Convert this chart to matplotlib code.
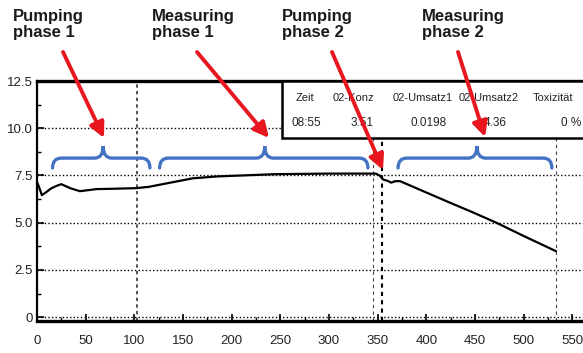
import numpy as np
import matplotlib
matplotlib.use("Agg")
from matplotlib import pyplot as plt
from matplotlib.path import Path
from matplotlib.patches import PathPatch, Rectangle

# O2 concentration curve
t = [0, 2, 5, 9, 14, 20, 25, 34, 44, 52, 61, 80, 102, 115, 129, 145, 160, 185, 210, 245,
     300, 348, 352, 356, 360, 364, 368, 373, 400, 423, 450, 472, 500, 533]
o2 = [7.15, 6.9, 6.46, 6.6, 6.8, 6.95, 7.04, 6.83, 6.67, 6.72, 6.78, 6.8, 6.83, 6.9, 7.04, 7.2, 7.35, 7.45, 7.5, 7.57,
      7.6, 7.6, 7.5, 7.28, 7.22, 7.12, 7.2, 7.2, 6.6, 6.09, 5.5, 5.0, 4.3, 3.5]

phase_lines = [103, 345, 354, 533]
yticks = [0, 2.5, 5.0, 7.5, 10.0, 12.5]
ytick_labels = ['0', '2.5', '5.0', '7.5', '10.0', '12.5']
xticks = list(range(0, 551, 50))

table_head = ['Zeit', '02-Konz', '02-Umsatz1', '02-Umsatz2', 'Toxizität']
table_vals = ['08:55', '3.51', '0.0198', '4.36', '0 %']

phase_labels = ['Pumping\nphase 1', 'Measuring\nphase 1', 'Pumping\nphase 2', 'Measuring\nphase 2']
# braces: (start, tip, end) in time units
braces = [(16, 68, 116), (126, 234, 340), (371, 452, 529)]

small = ['Liberation Sans', 'DejaVu Sans']

W, H = 583, 353
fig = plt.figure(figsize=(W / 100, H / 100), dpi=100)
ax = fig.add_axes([37 / W, 32 / H, 546 / W, 240 / H])

ax.plot(t, o2, color='black', lw=1.6, zorder=4)

ax.set_xlim(0, 561)
ax.set_ylim(-0.2, 12.5)

# dotted grid
for y in yticks[:-1]:
    ax.axhline(y, color='black', lw=1.0, ls=(0, (1, 1.6)), zorder=2)
ax.axvline(phase_lines[0], color='#333333', lw=1.2, ls=(0, (2, 2)), zorder=2)
ax.axvline(phase_lines[1], color='#444444', lw=0.8, ls=(0, (3, 3)), zorder=2)
ax.axvline(phase_lines[2], color='black', lw=1.5, ls=(0, (2, 2)), zorder=2)
ax.axvline(phase_lines[3], color='#444444', lw=0.8, ls=(0, (3, 3)), zorder=2)

ax.set_yticks(yticks)
ax.set_yticklabels(ytick_labels)
ax.set_yticks(np.arange(1.25, 12.5, 2.5), minor=True)
ax.set_xticks(xticks)
ax.set_xticklabels([str(v) for v in xticks])
ax.set_xticks(np.arange(25, 560, 50), minor=True)
ax.tick_params(direction='in', length=5, width=1.2, labelsize=9.5, pad=10)
ax.tick_params(axis='y', pad=3)
ax.tick_params(which='minor', direction='in', length=3, width=1)
for lab in ax.get_xticklabels() + ax.get_yticklabels():
    lab.set_family(small)
    lab.set_color('#222222')

ax.spines['right'].set_visible(False)
ax.spines['left'].set_linewidth(1.6)
ax.spines['bottom'].set_linewidth(2.4)
ax.spines['top'].set_linewidth(2.4)

# value table box in the upper right
ax.add_patch(Rectangle((252, 9.5), 330, 3.0, facecolor='white', edgecolor='black',
                       lw=1.8, zorder=5, clip_on=False))
head_x = [275, 325, 396, 464, 509]
head_al = ['center', 'center', 'center', 'center', 'left']
val_x = [277, 346, 402, 471, 538]
val_al = ['center', 'right', 'center', 'center', 'left']
for hx, h, al in zip(head_x, table_head, head_al):
    ax.text(hx, 11.6, h, ha=al, va='center', fontsize=8, family=small, zorder=6,
            color='#222222', clip_on=False)
for vx, v, al in zip(val_x, table_vals, val_al):
    ax.text(vx, 10.3, v, ha=al, va='center', fontsize=8.5, family=small, zorder=6,
            color='#222222', clip_on=False)

# blue curly braces
for x0, xm, x1 in braces:
    y_end, y_mid, y_tip = 7.9, 8.42, 9.05
    r = 9
    verts = [(x0, y_end), (x0, y_mid), (x0 + r, y_mid),
             (xm - r, y_mid), (xm, y_mid), (xm, y_tip),
             (xm, y_mid), (xm + r, y_mid),
             (x1 - r, y_mid), (x1, y_mid), (x1, y_end)]
    codes = [Path.MOVETO, Path.CURVE3, Path.CURVE3,
             Path.LINETO, Path.CURVE3, Path.CURVE3,
             Path.CURVE3, Path.CURVE3,
             Path.LINETO, Path.CURVE3, Path.CURVE3]
    ax.add_patch(PathPatch(Path(verts, codes), facecolor='none', edgecolor='#4472C4',
                           lw=2.4, capstyle='round', zorder=7, clip_on=False))

# phase labels and red arrows (figure pixel positions)
label_pos = [(13, 9), (152, 9), (282, 9), (422, 9)]
arrows = [((63, 52), (104, 138)), ((197, 52), (269, 138)),
          ((332, 52), (383, 170)), ((458, 52), (485, 137))]
for (lx, ly), txt in zip(label_pos, phase_labels):
    fig.text(lx / W, 1 - ly / H, txt, ha='left', va='top', fontsize=12, fontweight='bold',
             family=['Liberation Sans', 'DejaVu Sans'], color='#1a1a1a', linespacing=1.05)
for (x0, y0), (x1, y1) in arrows:
    ax.annotate('', xy=(x1, H - y1), xycoords='figure pixels',
                xytext=(x0, H - y0), textcoords='figure pixels',
                arrowprops=dict(arrowstyle='-|>,head_length=0.9,head_width=0.45',
                                color='#E8161E', lw=2.8, shrinkA=0, shrinkB=0),
                annotation_clip=False, zorder=10)

fig.savefig('out.png', dpi=100)
